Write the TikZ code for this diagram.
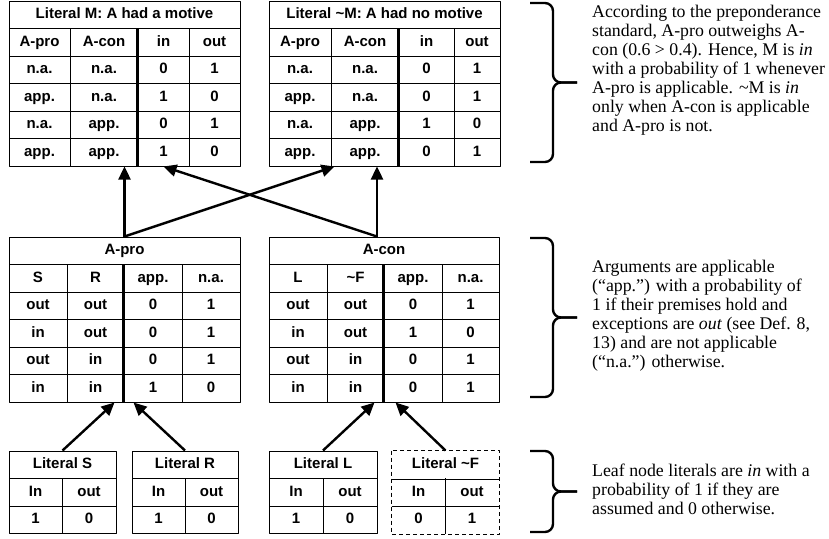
\documentclass[tikz,border=0pt]{standalone}
\usepackage{fontspec}
\setmainfont{Liberation Serif}
\newfontfamily\tablefont{Liberation Sans}
\usetikzlibrary{arrows.meta,calc}
% one row of a four-column table, columns at \colA..\colE
\newcommand \myrow[6]
{
\node[cell, minimum width=\colB-\colA] (#1-1) at ({(\colA+\colB)/2},#2) {#3};
\node[cell, minimum width=\colC-\colB] (#1-2) at ({(\colB+\colC)/2},#2) {#4};
\node[cell, minimum width=\colD-\colC] (#1-3) at ({(\colC+\colD)/2},#2) {#5};
\node[cell, minimum width=\colE-\colD] (#1-4) at ({(\colD+\colE)/2},#2) {#6};
}
% one row of a two-column leaf table, columns at \colA..\colC
\newcommand \myleafrow[5][]
{
\node[cell,#1, minimum width=\colB-\colA] (#2-1) at ({(\colA+\colB)/2},#3) {#4};
\node[cell,#1, minimum width=\colC-\colB] (#2-2) at ({(\colB+\colC)/2},#3) {#5};
}
\tikzset{
  cell/.style={draw, line width=1pt, minimum height=27.5pt, inner sep=0pt,
    text height=10.8pt, text depth=3pt, font=\tablefont\bfseries\fontsize{15}{17}\selectfont},
  divider/.style={line width=3pt},
  link/.style={line width=2.4pt, -{Triangle[length=13pt,width=12pt]}},
  bracket/.style={line width=2.4pt, rounded corners=8pt},
  note/.style={anchor=west, align=left, inner sep=0pt, font=\fontsize{17.8}{19}\selectfont}
}
\begin{document}
\begin{tikzpicture}[x=1pt, y=-1pt, line join=round]
\useasboundingbox (0,0) rectangle (829,538);
% Literal M
\def\colA{9}\def\colB{70}\def\colC{138}\def\colD{189}\def\colE{240}
\node[cell, minimum width=\colE-\colA] (m-t) at ({(\colA+\colE)/2},14.75) {Literal M: A had a motive};
\myrow{m-1}{42.25}{A-pro}{A-con}{in}{out}
\myrow{m-2}{69.75}{n.a.}{n.a.}{0}{1}
\myrow{m-3}{97.25}{app.}{n.a.}{1}{0}
\myrow{m-4}{124.75}{n.a.}{app.}{0}{1}
\myrow{m-5}{152.25}{app.}{app.}{1}{0}
\draw[divider] (m-1-3.north west) -- (m-5-3.south west);
% Literal ~M
\def\colA{269}\def\colB{331}\def\colC{399}\def\colD{454}\def\colE{500}
\node[cell, minimum width=\colE-\colA] (n-t) at ({(\colA+\colE)/2},14.75) {Literal \textasciitilde M: A had no motive};
\myrow{n-1}{42.25}{A-pro}{A-con}{in}{out}
\myrow{n-2}{69.75}{n.a.}{n.a.}{0}{1}
\myrow{n-3}{97.25}{app.}{n.a.}{0}{1}
\myrow{n-4}{124.75}{n.a.}{app.}{1}{0}
\myrow{n-5}{152.25}{app.}{app.}{0}{1}
\draw[divider] (n-1-3.north west) -- (n-5-3.south west);
% argument A-pro
\def\colA{9}\def\colB{67}\def\colC{124}\def\colD{182}\def\colE{240}
\node[cell, minimum width=\colE-\colA] (apro-t) at ({(\colA+\colE)/2},250.75) {A-pro};
\myrow{apro-1}{278.25}{S}{R}{app.}{n.a.}
\myrow{apro-2}{305.75}{out}{out}{0}{1}
\myrow{apro-3}{333.25}{in}{out}{0}{1}
\myrow{apro-4}{360.75}{out}{in}{0}{1}
\myrow{apro-5}{388.25}{in}{in}{1}{0}
\draw[divider] (apro-1-3.north west) -- (apro-5-3.south west);
% argument A-con
\def\colA{269}\def\colB{327}\def\colC{384}\def\colD{442}\def\colE{499}
\node[cell, minimum width=\colE-\colA] (acon-t) at ({(\colA+\colE)/2},250.75) {A-con};
\myrow{acon-1}{278.25}{L}{\textasciitilde F}{app.}{n.a.}
\myrow{acon-2}{305.75}{out}{out}{0}{1}
\myrow{acon-3}{333.25}{in}{out}{1}{0}
\myrow{acon-4}{360.75}{out}{in}{0}{1}
\myrow{acon-5}{388.25}{in}{in}{0}{1}
\draw[divider] (acon-1-3.north west) -- (acon-5-3.south west);
% leaf literals
\def\colA{9}\def\colB{62}\def\colC{116}
\node[cell, minimum width=\colC-\colA] (s-t) at ({(\colA+\colC)/2},464.75) {Literal S};
\myleafrow{s-1}{492.25}{In}{out}
\myleafrow{s-2}{519.75}{1}{0}
\def\colA{132}\def\colB{185}\def\colC{238}
\node[cell, minimum width=\colC-\colA] (r-t) at ({(\colA+\colC)/2},464.75) {Literal R};
\myleafrow{r-1}{492.25}{In}{out}
\myleafrow{r-2}{519.75}{1}{0}
\def\colA{269}\def\colB{323}\def\colC{377}
\node[cell, minimum width=\colC-\colA] (l-t) at ({(\colA+\colC)/2},464.75) {Literal L};
\myleafrow{l-1}{492.25}{In}{out}
\myleafrow{l-2}{519.75}{1}{0}
\def\colA{392}\def\colB{445}\def\colC{499}
\node[cell, draw=none, minimum width=\colC-\colA] (f-t) at ({(\colA+\colC)/2},464.75) {Literal \textasciitilde F};
\myleafrow[draw=none]{f-1}{492.25}{In}{out}
\myleafrow[draw=none]{f-2}{519.75}{0}{1}
\draw[line width=1pt] (f-t.south west) -- (f-t.south east) (f-1-1.south west) -- (f-1-2.south east)
  (f-1-1.north east) -- (f-2-1.south east);
\draw[line width=1pt, dash pattern=on 4pt off 3pt] (f-t.north west) rectangle (f-2-2.south east);
% arrows
\coordinate (acon-out) at ($(acon-t.north)+(-7,0)$);
\draw[link] (apro-t.north) -- (apro-t.north |- m-5-2.south);
\draw[link] (apro-t.north) -- ($(n-5-2.south west)+(4,0)$);
\draw[link] (acon-out) -- (acon-out |- n-5-2.south);
\draw[link] (acon-out) -- (m-5-3.south);
\draw[link] (s-t.north) -- ($(apro-5-2.south east)+(-10,0)$);
\draw[link] (r-t.north) -- ($(apro-5-3.south west)+(10,0)$);
\draw[link] (l-t.north) -- ($(acon-5-2.south east)+(-10,0)$);
\draw[link] (f-t.north) -- ($(acon-5-3.south west)+(12,0)$);
% braces
\draw[bracket] (530,3) -- (553,3) -- (553,82.5) -- (577,82.5);
\draw[bracket] (530,162) -- (553,162) -- (553,82.5) -- (577,82.5);
\draw[bracket] (530,238) -- (553,238) -- (553,317.5) -- (577,317.5);
\draw[bracket] (530,397) -- (553,397) -- (553,317.5) -- (577,317.5);
\draw[bracket] (530,451) -- (553,451) -- (553,491.5) -- (577,491.5);
\draw[bracket] (530,532) -- (553,532) -- (553,491.5) -- (577,491.5);
% notes
\node[note] (note-top) at (592,70) {According to the preponderance\\standard, A-pro outweighs A-\\con (0.6 > 0.4). Hence, M is \textit{in}\\with a probability of 1 whenever\\A-pro is applicable. \textasciitilde M is \textit{in}\\only when A-con is applicable\\and A-pro is not.};
\node[note] (note-mid) at (592,316) {Arguments are applicable\\(“app.”) with a probability of\\1 if their premises hold and\\exceptions are \textit{out} (see Def. 8,\\13) and are not applicable\\(“n.a.”) otherwise.};
\node[note] (note-leaf) at (592,489) {Leaf node literals are \textit{in} with a\\probability of 1 if they are\\assumed and 0 otherwise.};
\end{tikzpicture}
\end{document}
